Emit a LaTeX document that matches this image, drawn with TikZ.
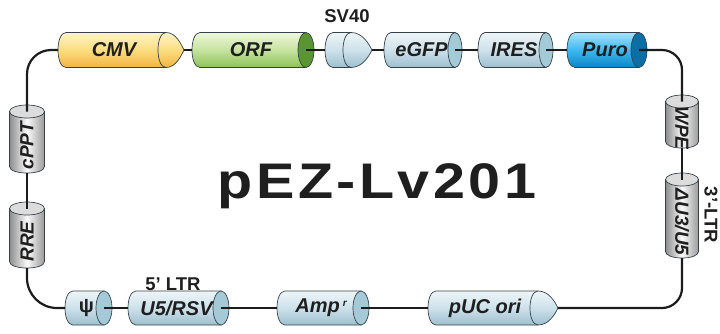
\documentclass[tikz,border=0pt]{standalone}
\usepackage{fontspec}
\setmainfont{Liberation Sans}
\newfontfamily\titlefont[LetterSpace=6]{Liberation Sans}
\definecolor{edge}{HTML}{36424A}
\definecolor{wire}{HTML}{1C1C1C}
\definecolor{txt}{HTML}{1F1F1F}
\definecolor{yT}{HTML}{FFF4C8}
\definecolor{yM}{HTML}{FBDD80}
\definecolor{yB}{HTML}{F2B440}
\definecolor{gT}{HTML}{EEF7DC}
\definecolor{gM}{HTML}{C6E39F}
\definecolor{gB}{HTML}{8CC157}
\definecolor{gF}{HTML}{5B9432}
\definecolor{bT}{HTML}{EEF5F8}
\definecolor{bM}{HTML}{CDE1EA}
\definecolor{bB}{HTML}{9DBFCE}
\definecolor{bF}{HTML}{A4CAD7}
\definecolor{pT}{HTML}{A6E2FB}
\definecolor{pM}{HTML}{3DB8EE}
\definecolor{pB}{HTML}{0A86C6}
\definecolor{pF}{HTML}{0B6FA5}
\definecolor{sL}{HTML}{8E8E8E}
\definecolor{sM}{HTML}{FAFAFA}
\definecolor{sR}{HTML}{9A9A9A}
\definecolor{sF}{HTML}{DCDCDC}
\tikzset{
  lab/.style={font=\fontsize{20}{20}\selectfont\bfseries\itshape, text=txt, inner sep=0pt},
  slab/.style={font=\fontsize{19}{19}\selectfont\bfseries\itshape, text=txt, inner sep=0pt},
  tag/.style={font=\fontsize{18.5}{18.5}\selectfont\bfseries, text=txt, inner sep=0pt},
  conn/.style={draw=wire, line width=2.2pt},
  holder/.style={inner sep=0pt, outer sep=0pt, draw=none},
  edgeline/.style={draw=edge, line width=0.7pt},
  yellowbody/.style={edgeline, top color=yT, bottom color=yB, middle color=yM},
  greenbody/.style={edgeline, top color=gT, bottom color=gB, middle color=gM},
  greenface/.style={edgeline, fill=gF},
  bluebody/.style={edgeline, top color=bT, bottom color=bB, middle color=bM},
  blueface/.style={edgeline, fill=bF},
  purobody/.style={edgeline, top color=pT, bottom color=pB, middle color=pM},
  puroface/.style={edgeline, fill=pF},
  greybody/.style={edgeline, left color=sL, right color=sR, middle color=sM},
  greyface/.style={edgeline, fill=sF},
}
\def\RY{17.5}
\def\RV{6.5}
% horizontal cylinder: 1 name, 2 xleft, 3 xface, 4 y, 5 rx, 6 body, 7 face, 8 label
\newcommand\MyHCyl[8]{%
  \path[#6] ({#2+#5},#4-\RY) -- (#3,#4-\RY) -- (#3,#4+\RY) -- ({#2+#5},#4+\RY)
     .. controls ({#2-0.333*#5},#4+\RY) and ({#2-0.333*#5},#4-\RY) .. ({#2+#5},#4-\RY) -- cycle;
  \path[#7] (#3,#4) ellipse [x radius=#5pt, y radius={\RY*1pt}];
  \node[holder, minimum width={(#3-#2)*1pt}, minimum height={2*\RY*1pt}] (#1) at ({(#2+#3)/2},#4) {};
  \node[lab] (#1-t) at ({(#2+#3)/2+2},#4) {#8};
}
% arrow cylinder: 1 name, 2 xleft, 3 xface, 4 xtip, 5 y, 6 rx, 7 body, 8 label
\newcommand\MyACyl[8]{%
  \path[#7] ({#2+#6},#5-\RY) -- (#3,#5-\RY)
     .. controls ({#3+0.55*(#4-#3)},#5-\RY) and ({#4-3},#5-6) .. (#4,#5)
     .. controls ({#4-3},#5+6) and ({#3+0.55*(#4-#3)},#5+\RY) .. (#3,#5+\RY)
     -- ({#2+#6},#5+\RY)
     .. controls ({#2-0.333*#6},#5+\RY) and ({#2-0.333*#6},#5-\RY) .. ({#2+#6},#5-\RY) -- cycle;
  \draw[edgeline] (#3,#5-\RY) .. controls ({#3-1.333*#6},#5-\RY) and ({#3-1.333*#6},#5+\RY) .. (#3,#5+\RY);
  \node[holder, minimum width={(#4-#2)*1pt}, minimum height={2*\RY*1pt}] (#1) at ({(#2+#4)/2},#5) {};
  \node[lab] (#1-t) at ({(#2+#3)/2+2},#5) {#8};
}
% vertical cylinder: 1 name, 2 x, 3 ytopface, 4 ybottom, 5 rx, 6 rotate, 7 label
\newcommand\MyVCyl[7]{%
  \path[greybody] ({#2-#5},#3) -- ({#2-#5},#4)
     .. controls ({#2-#5},{#4+1.333*\RV}) and ({#2+#5},{#4+1.333*\RV}) .. ({#2+#5},#4)
     -- ({#2+#5},#3) -- cycle;
  \path[greyface] (#2,#3) ellipse [x radius=#5pt, y radius={\RV*1pt}];
  \node[holder, minimum width={2*#5*1pt}, minimum height={(#4+\RV-#3)*1pt}] (#1) at (#2,{(#3+#4+\RV)/2}) {};
  \node[slab, rotate=#6] (#1-t) at (#2,{(#3+#4)/2+\RV}) {#7};
}
\begin{document}
\begin{tikzpicture}[x=1pt,y=-1pt]
\fill[white] (0,0) rectangle (720,333);
\useasboundingbox (0,0) rectangle (720,333);
% top row
\def\RY{17.5}
\MyACyl{CMV}{58}{166}{184}{50}{8}{yellowbody}{CMV}
\MyHCyl{ORF}{192}{306}{50}{8}{greenbody}{greenface}{ORF}
\MyACyl{SV}{325}{351}{372}{50}{8}{bluebody}{}
\MyHCyl{eGFP}{384}{455}{50}{7}{bluebody}{blueface}{eGFP}
\MyHCyl{IRES}{478}{546}{50}{7}{bluebody}{blueface}{IRES}
\MyHCyl{Puro}{567}{639}{50}{8}{purobody}{puroface}{Puro}
% bottom row
\def\RY{17}
\MyHCyl{psi}{65}{104}{308}{8}{bluebody}{blueface}{\upshape ψ}
\MyHCyl{U5}{128}{221}{308}{8}{bluebody}{blueface}{U5/RSV}
\MyHCyl{Amp}{277}{361}{308}{8}{bluebody}{blueface}{Amp\hspace{3pt}\raisebox{6pt}{\fontsize{10}{10}\selectfont r}}
\MyACyl{pUC}{428}{538}{558}{308}{8}{bluebody}{pUC ori}
% sides
\MyVCyl{cPPT}{27}{111.5}{166.5}{17.5}{90}{cPPT}
\MyVCyl{RRE}{27}{208.5}{261.5}{17.5}{90}{RRE}
\MyVCyl{WPE}{682}{101.5}{141.5}{16.5}{-90}{WPE}
\MyVCyl{DU}{682}{179.5}{251.5}{16.5}{-90}{ΔU3/U5}
% connectors
\draw[conn, rounded corners=24pt] (CMV.west) -| (cPPT.north);
\draw[conn] (CMV.east) -- (ORF.west);
\draw[conn] (ORF.east) -- (SV.west);
\draw[conn] (SV.east) -- (eGFP.west);
\draw[conn] (eGFP.east) -- (IRES.west);
\draw[conn] (IRES.east) -- (Puro.west);
\draw[conn, rounded corners=20pt] (Puro.east) -| (WPE.north);
\draw[conn] (WPE.south) -- (DU.north);
\draw[conn, rounded corners=20pt] (DU.south) |- (pUC.east);
\draw[conn] (pUC.west) -- (Amp.east);
\draw[conn] (Amp.west) -- (U5.east);
\draw[conn] (U5.west) -- (psi.east);
\draw[conn, rounded corners=30pt] (psi.west) -| (RRE.south);
\draw[conn] (RRE.north) -- (cPPT.south);
% labels
\node[tag] (sv40) at (347,16) {SV40};
\node[tag] (ltr5) at (173,284) {5’ LTR};
\node[tag, rotate=-90] (ltr3) at (711,215) {3’-LTR};
\node[anchor=base, font=\titlefont\bfseries\fontsize{50}{50}\selectfont, text=txt, inner sep=0pt, xscale=1.15] (title) at (377,198) {pEZ-Lv201};
\end{tikzpicture}
\end{document}
